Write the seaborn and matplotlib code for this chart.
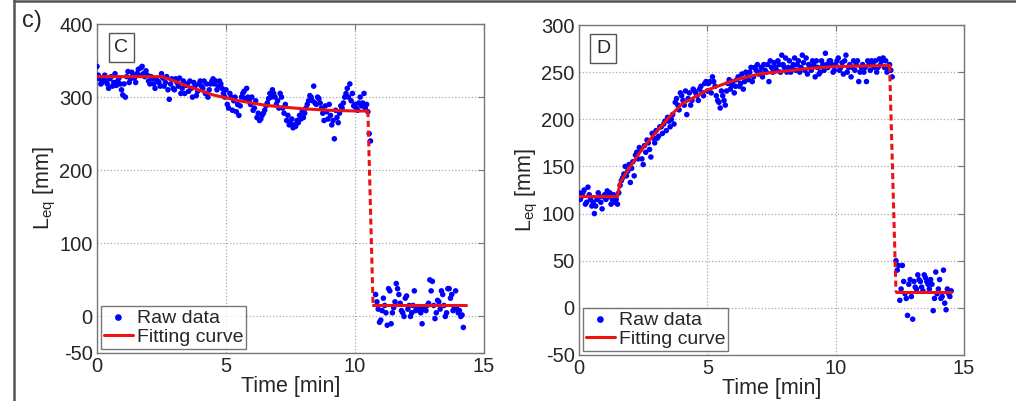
import matplotlib
matplotlib.use('Agg')
import matplotlib.pyplot as plt
import seaborn as sns
import pandas as pd

# Datos crudos - panel C (muestras enteras)
t_c = [0.0, 0.1, 0.2, 0.3, 0.4, 0.5, 0.6, 0.7, 0.8, 0.9,
       1.0, 1.1, 1.2, 1.3, 1.4, 1.5, 1.6, 1.7, 1.8, 1.9,
       2.0, 2.1, 2.2, 2.3, 2.4, 2.5, 2.6, 2.7, 2.8, 2.9,
       3.0, 3.1, 3.2, 3.3, 3.4, 3.5, 3.6, 3.7, 3.8, 3.9,
       4.0, 4.1, 4.2, 4.3, 4.4, 4.5, 4.6, 4.7, 4.8, 4.9,
       5.0, 5.1, 5.2, 5.3, 5.4, 5.5, 5.6, 5.7, 5.8, 5.9,
       6.0, 6.1, 6.2, 6.3, 6.4, 6.5, 6.6, 6.7, 6.8, 6.9,
       7.0, 7.1, 7.2, 7.3, 7.4, 7.5, 7.6, 7.7, 7.8, 7.9,
       8.0, 8.1, 8.2, 8.3, 8.4, 8.5, 8.6, 8.7, 8.8, 8.9,
       9.0, 9.1, 9.2, 9.3, 9.4, 9.5, 9.6, 9.7, 9.8, 9.9,
       10.0, 10.1, 10.2, 10.3, 10.4, 10.5, 10.55, 10.6,
       10.8, 10.9, 11.0, 11.1, 11.2, 11.3, 11.4, 11.5, 11.6, 11.7,
       11.8, 11.9, 12.0, 12.1, 12.2, 12.3, 12.4, 12.5, 12.6, 12.7,
       12.8, 12.9, 13.0, 13.1, 13.2, 13.3, 13.4, 13.5, 13.6, 13.7,
       13.8, 13.9, 14.0, 14.1, 14.2]
leq_c = [342, 325, 320, 330, 318, 325, 315, 332, 322, 318,
         303, 300, 335, 325, 330, 320, 338, 340, 332, 336,
         322, 328, 318, 325, 320, 332, 315, 328, 297, 325,
         310, 320, 326, 312, 305, 318, 322, 300, 315, 308,
         322, 312, 305, 300, 318, 325, 322, 315, 318, 305,
         310, 285, 300, 295, 280, 275, 300, 308, 312, 295,
         300, 285, 272, 268, 275, 282, 292, 305, 310, 300,
         295, 305, 285, 290, 275, 265, 258, 260, 265, 270,
         272, 285, 295, 300, 315, 290, 298, 285, 268, 280,
         290, 262, 243, 272, 278, 285, 300, 312, 318, 305,
         290, 282, 300, 292, 285, 280, 250, 240,
         30, 10, -5, 25, 5, 38, -10, 12, 45, 30,
         8, 0, 28, 15, 5, 35, 10, 8, -10, 12,
         15, 50, 48, -3, 22, 10, 30, 0, 38, 25,
         8, 35, 5, 0, -15]

# Datos crudos - panel C (muestras intermedias)
t_c2 = [0.05, 0.15, 0.25, 0.35, 0.45, 0.55, 0.65, 0.75, 0.85, 0.95,
        1.05, 1.15, 1.25, 1.35, 1.45, 1.55, 1.65, 1.75, 1.85, 1.95,
        2.05, 2.15, 2.25, 2.35, 2.45, 2.55, 2.65, 2.75, 2.85, 2.95,
        3.05, 3.15, 3.25, 3.35, 3.45, 3.55, 3.65, 3.75, 3.85, 3.95,
        4.05, 4.15, 4.25, 4.35, 4.45, 4.55, 4.65, 4.75, 4.85, 4.95,
        5.05, 5.15, 5.25, 5.35, 5.45, 5.55, 5.65, 5.75, 5.85, 5.95,
        6.05, 6.15, 6.25, 6.35, 6.45, 6.55, 6.65, 6.75, 6.85, 6.95,
        7.05, 7.15, 7.25, 7.35, 7.45, 7.55, 7.65, 7.75, 7.85, 7.95,
        8.05, 8.15, 8.25, 8.35, 8.45, 8.55, 8.65, 8.75, 8.85, 8.95,
        9.05, 9.15, 9.25, 9.35, 9.45, 9.55, 9.65, 9.75, 9.85, 9.95,
        10.05, 10.15, 10.25, 10.35, 10.45,
        10.85, 10.95, 11.05, 11.15, 11.25, 11.35, 11.45, 11.55, 11.65, 11.75,
        11.85, 11.95, 12.05, 12.15, 12.25, 12.35, 12.45, 12.55, 12.65, 12.75,
        12.85, 12.95, 13.05, 13.15, 13.25, 13.35, 13.45, 13.55, 13.65, 13.75,
        13.85, 13.95, 14.05, 14.15]
leq_c2 = [330, 318, 326, 322, 312, 328, 320, 316, 326, 310,
          318, 328, 320, 334, 326, 332, 330, 342, 328, 330,
          318, 325, 312, 322, 315, 326, 320, 310, 318, 312,
          325, 315, 305, 322, 316, 308, 312, 320, 302, 318,
          315, 322, 318, 310, 322, 318, 310, 322, 312, 300,
          290, 305, 282, 300, 290, 288, 305, 298, 300, 290,
          282, 295, 278, 270, 278, 288, 298, 300, 305, 290,
          285, 300, 278, 268, 262, 270, 262, 268, 275, 280,
          278, 290, 302, 295, 292, 300, 292, 278, 288, 270,
          275, 268, 282, 265, 288, 292, 305, 300, 295, 288,
          285, 292, 288, 305, 290,
          20, -8, 8, 15, -12, 35, 5, 20, 38, 18,
          5, 25, 10, 0, 15, 8, 12, 5, 10, 8,
          18, 35, 15, 5, 20, 35, 15, 5, 38, 30,
          12, 10, 8, 2]

# Curva de ajuste - panel C
fit_c_t = [0.0, 2.5, 3.0, 3.5, 4.0, 4.5, 5.0, 5.5, 6.0, 6.5, 7.0, 8.0, 9.0, 10.0, 10.5]
fit_c_y = [328, 328, 322, 315, 309, 303, 299, 295, 292, 289, 287, 284, 282, 281, 281]
salto_c_t = [10.5, 10.7]
salto_c_y = [281, 15]
final_c_t = [10.7, 14.3]
final_c_y = [15, 15]

# Datos crudos - panel D (muestras enteras)
t_d = [0.0, 0.1, 0.2, 0.3, 0.4, 0.5, 0.6, 0.7, 0.8, 0.9,
       1.0, 1.1, 1.2, 1.3, 1.4, 1.5, 1.6, 1.7, 1.8, 1.9,
       2.0, 2.1, 2.2, 2.3, 2.4, 2.5, 2.6, 2.7, 2.8, 2.9,
       3.0, 3.1, 3.2, 3.3, 3.4, 3.5, 3.6, 3.7, 3.8, 3.9,
       4.0, 4.1, 4.2, 4.3, 4.4, 4.5, 4.6, 4.7, 4.8, 4.9,
       5.0, 5.1, 5.2, 5.3, 5.4, 5.5, 5.6, 5.7, 5.8, 5.9,
       6.0, 6.1, 6.2, 6.3, 6.4, 6.5, 6.6, 6.7, 6.8, 6.9,
       7.0, 7.1, 7.2, 7.3, 7.4, 7.5, 7.6, 7.7, 7.8, 7.9,
       8.0, 8.1, 8.2, 8.3, 8.4, 8.5, 8.6, 8.7, 8.8, 8.9,
       9.0, 9.1, 9.2, 9.3, 9.4, 9.5, 9.6, 9.7, 9.8, 9.9,
       10.0, 10.1, 10.2, 10.3, 10.4, 10.5, 10.6, 10.7, 10.8, 10.9,
       11.0, 11.1, 11.2, 11.3, 11.4, 11.5, 11.6, 11.7, 11.8, 11.9,
       12.0, 12.1, 12.2, 12.35, 12.4, 12.5, 12.6, 12.7, 12.8, 12.9,
       13.0, 13.1, 13.2, 13.3, 13.4, 13.5, 13.6, 13.7, 13.8, 13.9,
       14.0, 14.1, 14.2, 14.3, 14.4, 14.5]
leq_d = [122, 118, 125, 112, 120, 108, 100, 115, 118, 105,
         120, 124, 122, 115, 112, 110, 130, 138, 150, 145,
         133, 155, 162, 158, 168, 152, 165, 175, 160, 180,
         188, 182, 192, 195, 188, 198, 200, 195, 222, 210,
         225, 215, 205, 228, 220, 230, 225, 232, 228, 238,
         230, 240, 245, 235, 220, 212, 225, 215, 238, 232,
         240, 235, 245, 238, 232, 250, 242, 255, 245, 252,
         248, 255, 258, 250, 240, 255, 260, 252, 258, 268,
         255, 250, 262, 255, 265, 258, 250, 268, 252, 248,
         256, 262, 245, 255, 250, 258, 270, 255, 262, 250,
         258, 265, 255, 248, 268, 255, 245, 262, 258, 240,
         255, 250, 240, 258, 262, 255, 250, 264, 262, 255,
         250, 258, 245, 50, 40, 8, 45, 15, -8, 30,
         -12, 22, 35, 28, 18, 32, 25, 30, -3, 38,
         20, 10, 40, -2, 15, 18]

# Datos crudos - panel D (muestras intermedias)
t_d2 = [0.05, 0.15, 0.25, 0.35, 0.45, 0.55, 0.65, 0.75, 0.85, 0.95,
        1.05, 1.15, 1.25, 1.35, 1.45, 1.55, 1.65, 1.75, 1.85, 1.95,
        2.05, 2.15, 2.25, 2.35, 2.45, 2.55, 2.65, 2.75, 2.85, 2.95,
        3.05, 3.15, 3.25, 3.35, 3.45, 3.55, 3.65, 3.75, 3.85, 3.95,
        4.05, 4.15, 4.25, 4.35, 4.45, 4.55, 4.65, 4.75, 4.85, 4.95,
        5.05, 5.15, 5.25, 5.35, 5.45, 5.55, 5.65, 5.75, 5.85, 5.95,
        6.05, 6.15, 6.25, 6.35, 6.45, 6.55, 6.65, 6.75, 6.85, 6.95,
        7.05, 7.15, 7.25, 7.35, 7.45, 7.55, 7.65, 7.75, 7.85, 7.95,
        8.05, 8.15, 8.25, 8.35, 8.45, 8.55, 8.65, 8.75, 8.85, 8.95,
        9.05, 9.15, 9.25, 9.35, 9.45, 9.55, 9.65, 9.75, 9.85, 9.95,
        10.05, 10.15, 10.25, 10.35, 10.45, 10.55, 10.65, 10.75, 10.85, 10.95,
        11.05, 11.15, 11.25, 11.35, 11.45, 11.55, 11.65, 11.75, 11.85, 11.95,
        12.05, 12.15,
        12.45, 12.55, 12.65, 12.75, 12.85, 12.95, 13.05, 13.15, 13.25, 13.35,
        13.45, 13.55, 13.65, 13.75, 13.85, 13.95, 14.05, 14.15, 14.25, 14.35,
        14.45]
leq_d2 = [115, 122, 110, 128, 115, 112, 108, 122, 112, 118,
          115, 118, 110, 120, 115, 122, 135, 142, 140, 152,
          148, 140, 165, 170, 158, 172, 178, 168, 185, 175,
          180, 192, 185, 198, 202, 192, 205, 218, 215, 228,
          220, 230, 222, 215, 232, 228, 220, 235, 225, 240,
          238, 228, 240, 225, 218, 230, 220, 230, 242, 236,
          228, 242, 235, 248, 240, 245, 250, 240, 255, 258,
          250, 245, 252, 258, 262, 250, 255, 262, 250, 258,
          265, 255, 250, 258, 252, 262, 255, 260, 265, 258,
          252, 258, 262, 248, 262, 252, 258, 262, 258, 252,
          262, 252, 260, 262, 250, 258, 255, 252, 262, 250,
          258, 255, 262, 252, 258, 262, 255, 258, 265, 262,
          255, 252,
          45, 20, 28, 10, 25, 12, 28, 20, 30, 22,
          35, 28, 20, 25, 10, 15, 30, 12, 5, 20,
          12]

# Curva de ajuste - panel D
fit_d_t = [0.0, 1.5, 1.6, 2.0, 2.5, 3.0, 3.5, 4.0, 5.0, 6.0, 7.0, 8.0, 9.0, 10.0, 12.1]
fit_d_y = [118, 118, 133, 150, 170, 186, 202, 216, 231, 241, 248, 251, 254, 256, 257]
salto_d_t = [12.1, 12.35]
salto_d_y = [257, 17]
final_d_t = [12.35, 14.5]
final_d_y = [17, 17]

sns.set_style('white')
plt.rcParams['font.family'] = ['Liberation Sans', 'DejaVu Sans']
plt.rcParams['mathtext.fontset'] = 'custom'
plt.rcParams['mathtext.rm'] = 'Liberation Sans'
plt.rcParams['mathtext.it'] = 'Liberation Sans'
plt.rcParams['axes.unicode_minus'] = False

fig = plt.figure(figsize=(10.16, 4.01), dpi=100)

# Marco exterior de la figura
fig.add_artist(plt.Line2D([14 / 1016, 14 / 1016], [0, 1], color='#555555', lw=1.8))
fig.add_artist(plt.Line2D([14 / 1016, 1], [0.997, 0.997], color='#555555', lw=1.8))
fig.text(22 / 1016, 1 - 21 / 401, 'c)', fontsize=17, va='center', ha='left')

paneles = [
    ([97, 484, 24, 353], t_c + t_c2, leq_c + leq_c2, (fit_c_t, fit_c_y),
     (salto_c_t, salto_c_y), (final_c_t, final_c_y), (-50, 400),
     [-50, 0, 100, 200, 300, 400], 'C'),
    ([579, 964, 25, 355], t_d + t_d2, leq_d + leq_d2, (fit_d_t, fit_d_y),
     (salto_d_t, salto_d_y), (final_d_t, final_d_y), (-50, 300),
     [-50, 0, 50, 100, 150, 200, 250, 300], 'D'),
]

for caja, t, leq, fit, salto, final, ylim, yticks, etiqueta in paneles:
    x0, x1, y0, y1 = caja
    ax = fig.add_axes([x0 / 1016, 1 - y1 / 401, (x1 - x0) / 1016, (y1 - y0) / 401])
    df = pd.DataFrame({'Time': t, 'Leq': leq})
    sns.scatterplot(data=df, x='Time', y='Leq', ax=ax, color='#0000ff', s=16,
                    edgecolor='none', label='Raw data', zorder=3)
    sns.lineplot(x=fit[0], y=fit[1], ax=ax, color='#ee1111', lw=2.2,
                 label='Fitting curve', zorder=4)
    ax.plot(salto[0], salto[1], color='#ee1111', lw=2.2, ls=(0, (2, 1.2)), zorder=4)
    ax.plot(final[0], final[1], color='#ee1111', lw=2.2, zorder=4)

    ax.set_xlim(0, 15)
    ax.set_ylim(*ylim)
    ax.set_xticks([0, 5, 10, 15])
    ax.set_yticks(yticks)
    ax.grid(True, color='#aaaaaa', ls=':', lw=0.9)
    for s in ax.spines.values():
        s.set_color('#777777')
        s.set_linewidth(1.0)
    ax.tick_params(direction='in', length=4, color='#777777', labelsize=14.5,
                   top=True, right=True, pad=3)
    ax.set_xlabel('Time [min]', fontsize=15.5, labelpad=0)
    ax.set_ylabel(r'L$_{\rm eq}$ [mm]', fontsize=15.5, labelpad=1)

    ax.text(0.045, 0.955, etiqueta, transform=ax.transAxes, fontsize=14,
            va='top', ha='left',
            bbox=dict(boxstyle='square,pad=0.3', fc='white', ec='#555555', lw=1))

    leg = ax.legend(loc='lower left', fontsize=14, frameon=True, fancybox=False,
                    borderpad=0.15, handlelength=1.5, handletextpad=0.2,
                    labelspacing=0.1, borderaxespad=0.2, markerscale=1.2)
    leg.get_frame().set_edgecolor('#555555')
    leg.get_frame().set_linewidth(1.0)

fig.savefig('out.png', dpi=100)
